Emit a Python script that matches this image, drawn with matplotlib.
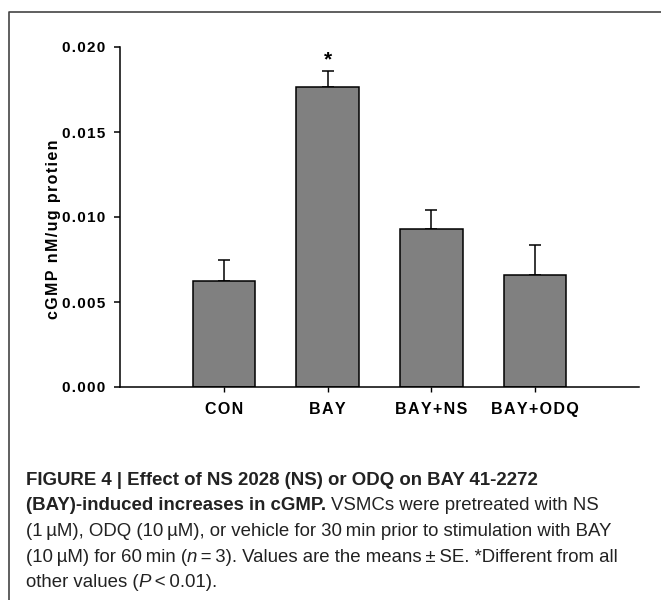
import matplotlib
matplotlib.use("Agg")
import matplotlib.pyplot as plt
from matplotlib.lines import Line2D

# cGMP per group (means and SE)
groups = ["CON", "BAY", "BAY+NS", "BAY+ODQ"]
means = [0.00622, 0.01766, 0.00931, 0.00656]
se = [0.00125, 0.00092, 0.00113, 0.00181]
yticks = [0.000, 0.005, 0.010, 0.015, 0.020]
star_group = 1

HAIR = "\u200a"
CHART_FONT = ["Liberation Sans", "DejaVu Sans"]
CAP_FONT = ["Liberation Sans Narrow", "Liberation Sans", "DejaVu Sans"]


def track(s, sp=HAIR):
    # cheap letter spacing for the wide SigmaPlot lettering
    return sp.join(s)


fig = plt.figure(figsize=(6.61, 6.0), dpi=100)
ax = fig.add_axes([120 / 661, 1 - 387 / 600, 519 / 661, 340 / 600])

x = list(range(len(groups)))
ax.bar(x, means, width=0.6, color="#808080", edgecolor="black", linewidth=1.1, zorder=2)
ax.errorbar(x, means, yerr=[[0] * len(se), se], fmt="none", ecolor="black",
            elinewidth=1.1, capsize=4.5, capthick=1.1, zorder=1)
ax.text(star_group, means[star_group] + se[star_group] + 0.00012, "*", ha="center", va="bottom",
        fontsize=15, fontweight="bold", family=CHART_FONT)

ax.set_xlim(-1, 4)
ax.set_ylim(0, 0.020)
for side in ["top", "right"]:
    ax.spines[side].set_visible(False)
for side in ["left", "bottom"]:
    ax.spines[side].set_linewidth(1.1)

ax.set_xticks(x)
ax.set_xticklabels([track(g) for g in groups], fontsize=11.5, fontweight="bold", family=CHART_FONT)
ax.set_yticks(yticks)
ax.set_yticklabels([track("%.3f" % v) for v in yticks], fontsize=11, fontweight="bold", family=CHART_FONT)
ax.tick_params(axis="y", direction="out", length=4.3, width=1.1, pad=6)
ax.tick_params(axis="x", direction="out", length=3.6, width=1.0, pad=7)

fig.text(54 / 661, 1 - 229 / 600, track("cGMP nM/ug protien"), rotation=90,
         ha="center", va="center", fontsize=11.5, fontweight="bold", family=CHART_FONT)

# frame lines of the figure panel
fig.add_artist(Line2D([9 / 661, 9 / 661, 1], [0, 1 - 12 / 600, 1 - 12 / 600],
                      color="#444444", linewidth=1.2))

# caption, drawn segment by segment so weights can change mid-line
renderer = fig.canvas.get_renderer()
fw = fig.bbox.width


def seg_width(s, **kw):
    t = fig.text(0, 0, s, **kw)
    w = t.get_window_extent(renderer).width
    t.remove()
    return w


def draw_line(x0, y0, segments, size=13.4):
    xx = x0
    for s, weight, style in segments:
        kw = dict(fontsize=size, fontweight=weight, fontstyle=style, family=CAP_FONT)
        lead = len(s) - len(s.lstrip(" "))
        trail = len(s) - len(s.rstrip(" "))
        space = seg_width("a a", **kw) - seg_width("aa", **kw)
        xx += lead * space / fw
        core = s.strip(" ")
        t = fig.text(xx, y0, core, ha="left", va="baseline", color="#222222", **kw)
        xx += t.get_window_extent(renderer).width / fw
        xx += trail * space / fw


caption = [
    [("FIGURE 4 | Effect of NS 2028 (NS) or ODQ on BAY 41-2272", "bold", "normal")],
    [("(BAY)-induced increases in cGMP.", "bold", "normal"),
     (" VSMCs were pretreated with NS", "normal", "normal")],
    [("(1\u2009\u00b5M), ODQ (10\u2009\u00b5M), or vehicle for 30\u2009min prior to stimulation with BAY",
      "normal", "normal")],
    [("(10\u2009\u00b5M) for 60\u2009min (", "normal", "normal"), ("n", "normal", "italic"),
     ("\u2009=\u20093). Values are the means\u2009\u00b1\u2009SE. *Different from all", "normal", "normal")],
    [("other values (", "normal", "normal"), ("P", "normal", "italic"),
     ("\u2009<\u20090.01).", "normal", "normal")],
]
baselines = [485, 510.5, 536, 561.5, 587]
for line, yb in zip(caption, baselines):
    draw_line(26 / 661, 1 - yb / 600, line)

fig.savefig("out.png", dpi=100)
